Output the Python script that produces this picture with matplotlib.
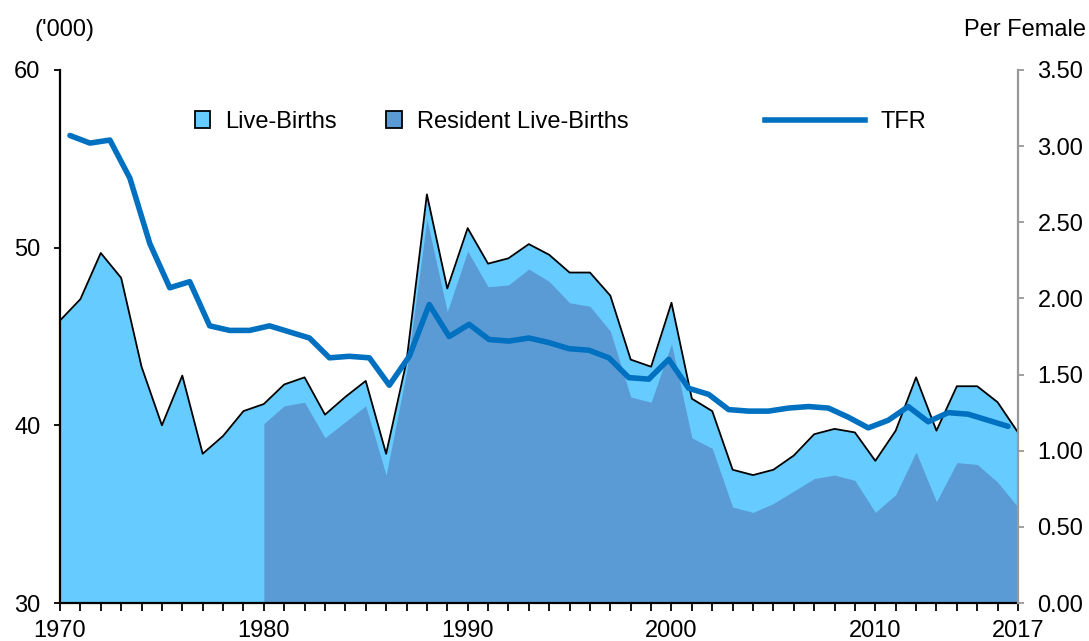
import numpy as np
import matplotlib.pyplot as plt
from matplotlib.patches import Patch
from matplotlib.lines import Line2D

plt.rcParams['font.family'] = ['Liberation Sans', 'DejaVu Sans']

# --- Data ---
years = np.arange(1970, 2018)

live_births = [45.9, 47.1, 49.7, 48.3, 43.3, 40.0, 42.8, 38.4, 39.4, 40.8,
               41.2, 42.3, 42.7, 40.6, 41.6, 42.5, 38.4, 43.6, 53.0, 47.7,
               51.1, 49.1, 49.4, 50.2, 49.6, 48.6, 48.6, 47.3, 43.7, 43.3,
               46.9, 41.5, 40.8, 37.5, 37.2, 37.5, 38.3, 39.5, 39.8, 39.6,
               38.0, 39.7, 42.7, 39.7, 42.2, 42.2, 41.3, 39.6]

# resident live-births only available from 1980
res_years = np.arange(1980, 2018)
resident_births = [40.1, 41.1, 41.3, 39.3, 40.2, 41.1, 37.2, 43.0, 51.6, 46.4,
                   49.8, 47.8, 47.9, 48.8, 48.1, 46.9, 46.7, 45.3, 41.6, 41.3,
                   44.6, 39.3, 38.7, 35.4, 35.1, 35.6, 36.3, 37.0, 37.2, 36.9,
                   35.1, 36.1, 38.5, 35.7, 37.9, 37.8, 36.8, 35.4]

tfr = [3.07, 3.02, 3.04, 2.79, 2.36, 2.07, 2.11, 1.82, 1.79, 1.79,
       1.82, 1.78, 1.74, 1.61, 1.62, 1.61, 1.43, 1.62, 1.96, 1.75,
       1.83, 1.73, 1.72, 1.74, 1.71, 1.67, 1.66, 1.61, 1.48, 1.47,
       1.60, 1.41, 1.37, 1.27, 1.26, 1.26, 1.28, 1.29, 1.28, 1.22,
       1.15, 1.20, 1.29, 1.19, 1.25, 1.24, 1.20, 1.16]

label_years = [1970, 1980, 1990, 2000, 2010, 2017]

LIGHT = '#66CCFF'
DARK = '#5B9BD5'
LINE = '#0070C0'
FS = 17

fig = plt.figure(figsize=(10.89, 6.41), dpi=100)
pos = [60 / 1089, 38 / 641, 958 / 1089, 533 / 641]
ax = fig.add_axes(pos)

ax.fill_between(years, 30, live_births, color=LIGHT, linewidth=0)
ax.fill_between(res_years, 30, resident_births, color=DARK, linewidth=0)
ax.plot(years, live_births, color='black', linewidth=1.3)

ax.set_xlim(1970, 2017)
ax.set_ylim(30, 60)
ax.set_yticks([30, 40, 50, 60])
ax.set_xticks(years)
ax.set_xticklabels([str(y) if y in label_years else '' for y in years])
ax.tick_params(axis='x', direction='out', length=6, width=1.3, labelsize=FS, pad=6)
ax.tick_params(axis='y', direction='out', length=4, width=1.3, labelsize=FS, pad=10)
for s in ['top', 'right']:
    ax.spines[s].set_visible(False)
for s in ['left', 'bottom']:
    ax.spines[s].set_linewidth(1.6)

# TFR on its own secondary axes (Excel-style category centres)
ax2 = fig.add_axes(pos)
ax2.patch.set_visible(False)
ax2.plot(years + 0.5, tfr, color=LINE, linewidth=4, solid_capstyle='round')
ax2.set_xlim(1970, 2018)
ax2.set_ylim(0, 3.5)
ax2.set_xticks([])
ax2.yaxis.tick_right()
tfr_ticks = np.arange(0, 3.51, 0.5)
ax2.set_yticks(tfr_ticks)
ax2.set_yticklabels([f'{v:.2f}' for v in tfr_ticks])
ax2.tick_params(axis='y', direction='out', length=4, width=1.3, color='#999999',
                labelsize=FS, pad=10)
for s in ['top', 'left', 'bottom']:
    ax2.spines[s].set_visible(False)
ax2.spines['right'].set_color('#999999')
ax2.spines['right'].set_linewidth(1.6)

fig.text(35 / 1089, 1 - 30 / 641, "('000)", fontsize=FS, va='center', ha='left')
fig.text(1086 / 1089, 1 - 30 / 641, 'Per Female', fontsize=FS, va='center', ha='right')

patch_handles = [Patch(facecolor=LIGHT, edgecolor='black', linewidth=1.3, label='Live-Births'),
                 Patch(facecolor=DARK, edgecolor='black', linewidth=1.3, label='Resident Live-Births')]
leg1 = ax2.legend(handles=patch_handles, ncol=2, frameon=False, fontsize=FS,
                  handlelength=0.64, handleheight=0.75, handletextpad=0.64, columnspacing=2.1,
                  borderpad=0, borderaxespad=0,
                  loc='center left', bbox_to_anchor=(135 / 958, 1 - 52 / 533))
ax2.add_artist(leg1)
ax2.legend(handles=[Line2D([0], [0], color=LINE, linewidth=4, label='TFR')],
           frameon=False, fontsize=FS, handlelength=4.24, handletextpad=0.64,
           borderpad=0, borderaxespad=0,
           loc='center left', bbox_to_anchor=(705 / 958, 1 - 52 / 533))

fig.savefig('out.png', dpi=100)
